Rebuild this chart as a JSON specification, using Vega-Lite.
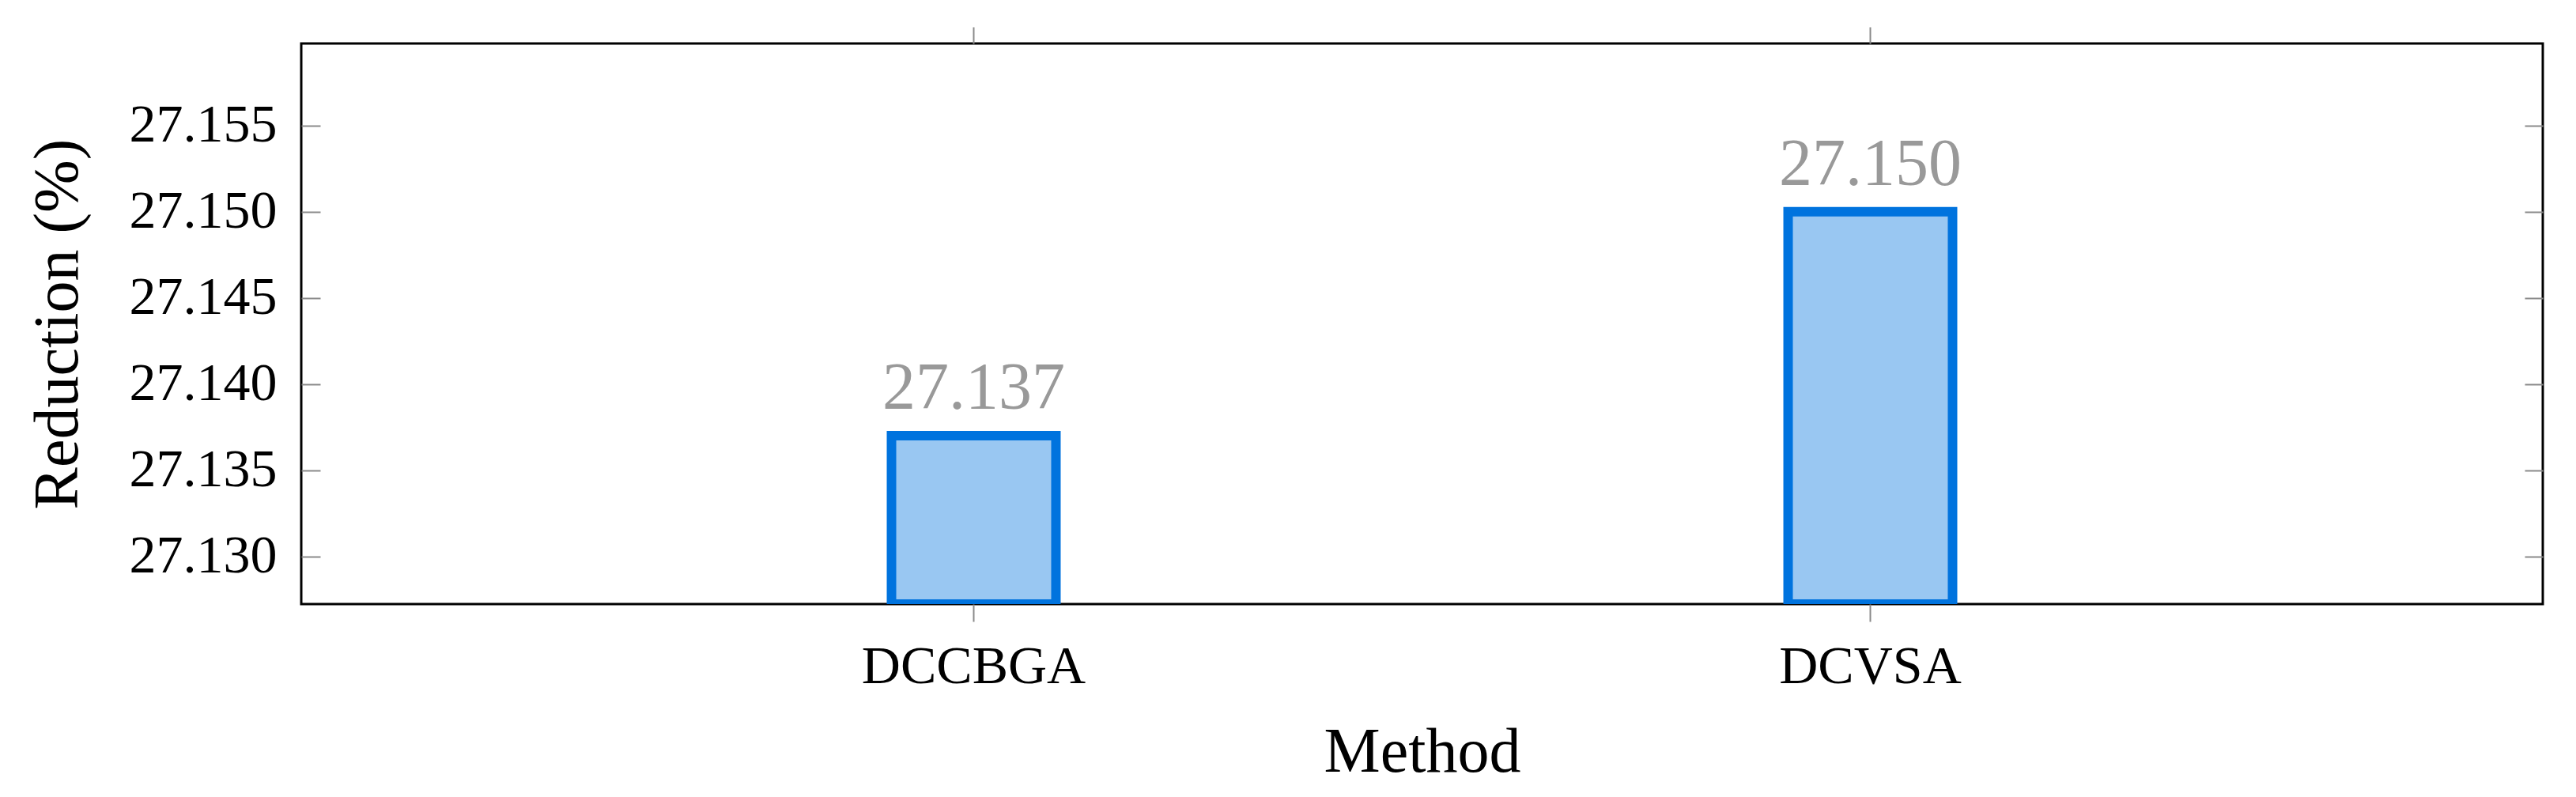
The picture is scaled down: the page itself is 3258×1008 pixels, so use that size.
{
  "$schema": "https://vega.github.io/schema/vega-lite/v6.json",
  "autosize": {"type": "none"},
  "padding": {"left": 381, "top": 55, "right": 42, "bottom": 244},
  "width": 2835,
  "height": 709,
  "background": "white",
  "config": {
    "font": "Liberation Serif",
    "view": {"stroke": "black", "strokeWidth": 3},
    "axis": {"grid": false, "domain": false, "labelLimit": 0}
  },
  "data": {
    "values": [
      {"Method": "DCCBGA", "Reduction": 27.137},
      {"Method": "DCVSA", "Reduction": 27.150}
    ]
  },
  "resolve": {
    "scale": {"x": "shared", "y": "shared"},
    "axis": {"x": "independent", "y": "independent"}
  },
  "layer": [
    {
      "mark": {"type": "bar", "clip": true, "fill": "#99C7F2", "stroke": "#0073DE", "strokeWidth": 12},
      "encoding": {
        "x": {
          "field": "Method", "type": "nominal", "sort": null,
          "scale": {"paddingInner": 0.8166, "paddingOuter": 0.6583},
          "axis": {
            "orient": "bottom", "title": "Method", "labelAngle": 0, "labelLimit": 0,
            "tickSize": 22, "tickColor": "#8a8a8a", "tickWidth": 2,
            "labelFontSize": 68, "labelColor": "black", "labelPadding": 77, "labelBaseline": "alphabetic",
            "titleFontSize": 80, "titleFontWeight": "normal", "titleColor": "black",
            "titleY": 211, "titleBaseline": "alphabetic"
          }
        },
        "y": {
          "field": "Reduction", "type": "quantitative",
          "scale": {"domain": [27.12723, 27.15976], "zero": false, "nice": false},
          "axis": {
            "orient": "left", "title": "Reduction (%)", "labelLimit": 0,
            "values": [27.13, 27.135, 27.14, 27.145, 27.15, 27.155], "format": ".3f",
            "tickSize": -24, "tickColor": "#8a8a8a", "tickWidth": 2,
            "labelFontSize": 68, "labelColor": "black", "labelPadding": 55,
            "titleFontSize": 80, "titleFontWeight": "normal", "titleColor": "black",
            "titleX": -284, "titleY": 354.5, "titleAngle": 270, "titleBaseline": "alphabetic", "titleAlign": "center"
          }
        },
        "y2": {"datum": 27.12723}
      }
    },
    {
      "mark": {"type": "text", "dy": -34, "baseline": "alphabetic", "fontSize": 84, "color": "#999999", "font": "Liberation Serif"},
      "encoding": {
        "x": {
          "field": "Method", "type": "nominal", "sort": null,
          "axis": {"orient": "top", "labels": false, "title": null, "tickSize": 21, "tickColor": "#8a8a8a", "tickWidth": 2}
        },
        "y": {
          "field": "Reduction", "type": "quantitative",
          "axis": {
            "orient": "right", "labels": false, "title": null,
            "values": [27.13, 27.135, 27.14, 27.145, 27.15, 27.155],
            "tickSize": -23, "tickColor": "#8a8a8a", "tickWidth": 2
          }
        },
        "text": {"field": "Reduction", "type": "quantitative", "format": ".3f"}
      }
    }
  ]
}
